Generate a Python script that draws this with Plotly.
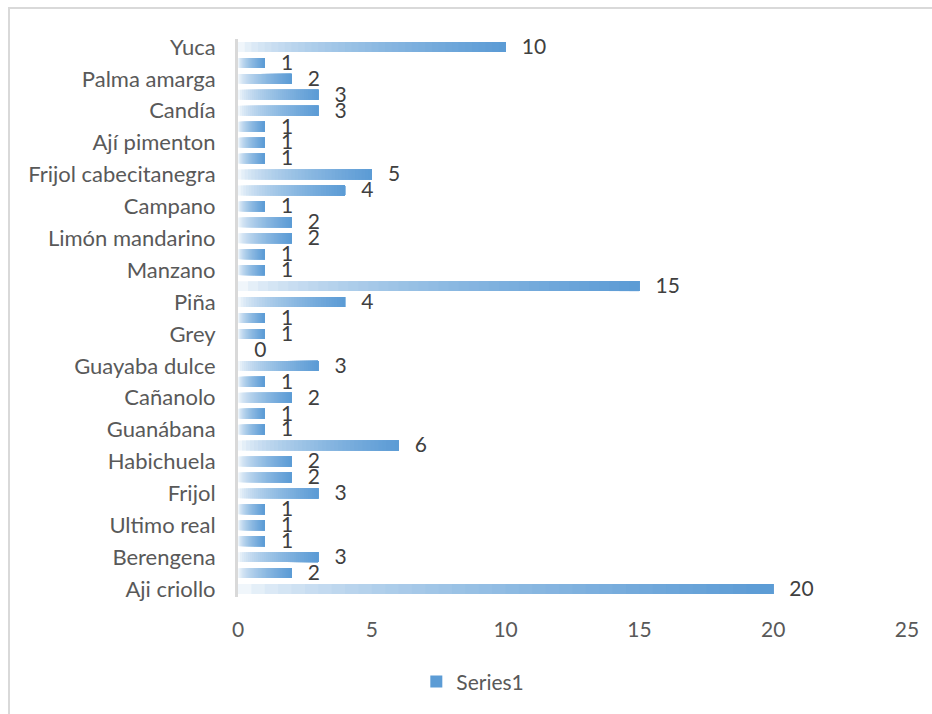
import plotly.graph_objects as go

# Values listed from the bottom bar (position 0) to the top bar (position 34)
values = [20, 2, 3, 1, 1, 1, 3, 2, 2, 6, 1, 1, 2, 1, 3, 0, 1, 1, 4, 15,
          1, 1, 2, 2, 1, 4, 5, 1, 1, 1, 3, 3, 2, 1, 10]
# Only every other category label is shown on the axis (positions 0, 2, 4, ...)
shown_labels = ["Aji criollo", "Berengena", "Ultimo real", "Frijol", "Habichuela",
                "Guanábana", "Cañanolo", "Guayaba dulce", "Grey", "Piña", "Manzano",
                "Limón mandarino", "Campano", "Frijol cabecitanegra", "Ají pimenton",
                "Candía", "Palma amarga", "Yuca"]
x_ticks = [0, 5, 10, 15, 20, 25]
series_name = "Series1"

positions = list(range(len(values)))
label_positions = positions[::2]

FONT = "Lato"
N = 40
start = (255, 255, 255)
end = (91, 155, 213)

def seg_color(t):
    m = t ** 0.55
    r, g, b = (round(s + (e - s) * m) for s, e in zip(start, end))
    return f"rgb({r},{g},{b})"

fig = go.Figure()
for i in range(N):
    t = (i + 0.5) / N
    fig.add_trace(go.Bar(
        orientation="h",
        y=positions,
        base=[v * i / N for v in values],
        x=[v * (N - i) / N for v in values],
        width=0.62,
        marker=dict(color=seg_color(t), line=dict(width=0)),
        name=series_name,
        showlegend=(i == N - 1),
        hoverinfo="skip",
    ))

fig.add_trace(go.Scatter(
    x=values, y=[p - 0.1 for p in positions], mode="text",
    text=["\u00a0\u00a0\u00a0" + str(v) for v in values],
    textposition="middle right",
    textfont=dict(family=FONT, size=21, color="#404040"),
    showlegend=False, hoverinfo="skip", cliponaxis=False,
))

fig.update_layout(
    width=932, height=714,
    margin=dict(l=238, r=25, t=39, b=117),
    paper_bgcolor="white", plot_bgcolor="white",
    barmode="overlay",
    showlegend=True,
    legend=dict(orientation="h", x=0.351, xanchor="center", y=-0.152, yanchor="middle",
                font=dict(family=FONT, size=21, color="#595959"),
                itemsizing="constant"),
    xaxis=dict(range=[0, 25], tickvals=x_ticks, ticktext=[str(v) for v in x_ticks],
               showgrid=False, zeroline=False, showline=False, ticks="",
               tickfont=dict(family=FONT, size=21, color="#595959"),
               ticklabelstandoff=18, automargin=False),
    yaxis=dict(range=[-0.5, len(values) - 0.5], tickvals=label_positions,
               ticktext=shown_labels, showgrid=False, zeroline=False,
               showline=True, linecolor="#d9d9d9", linewidth=3, ticks="",
               tickfont=dict(family=FONT, size=22, color="#595959"),
               ticklabelstandoff=15, automargin=False),
    shapes=[dict(type="rect", xref="paper", yref="paper",
                 x0=(9 - 238) / 669, x1=1.2, y0=-0.4, y1=(597 - 8) / 558,
                 line=dict(color="#d9d9d9", width=2), fillcolor="rgba(0,0,0,0)",
                 layer="below")],
)

fig.write_html("out.html", config={"displayModeBar": False},
               post_script="document.body.style.margin='0';")
